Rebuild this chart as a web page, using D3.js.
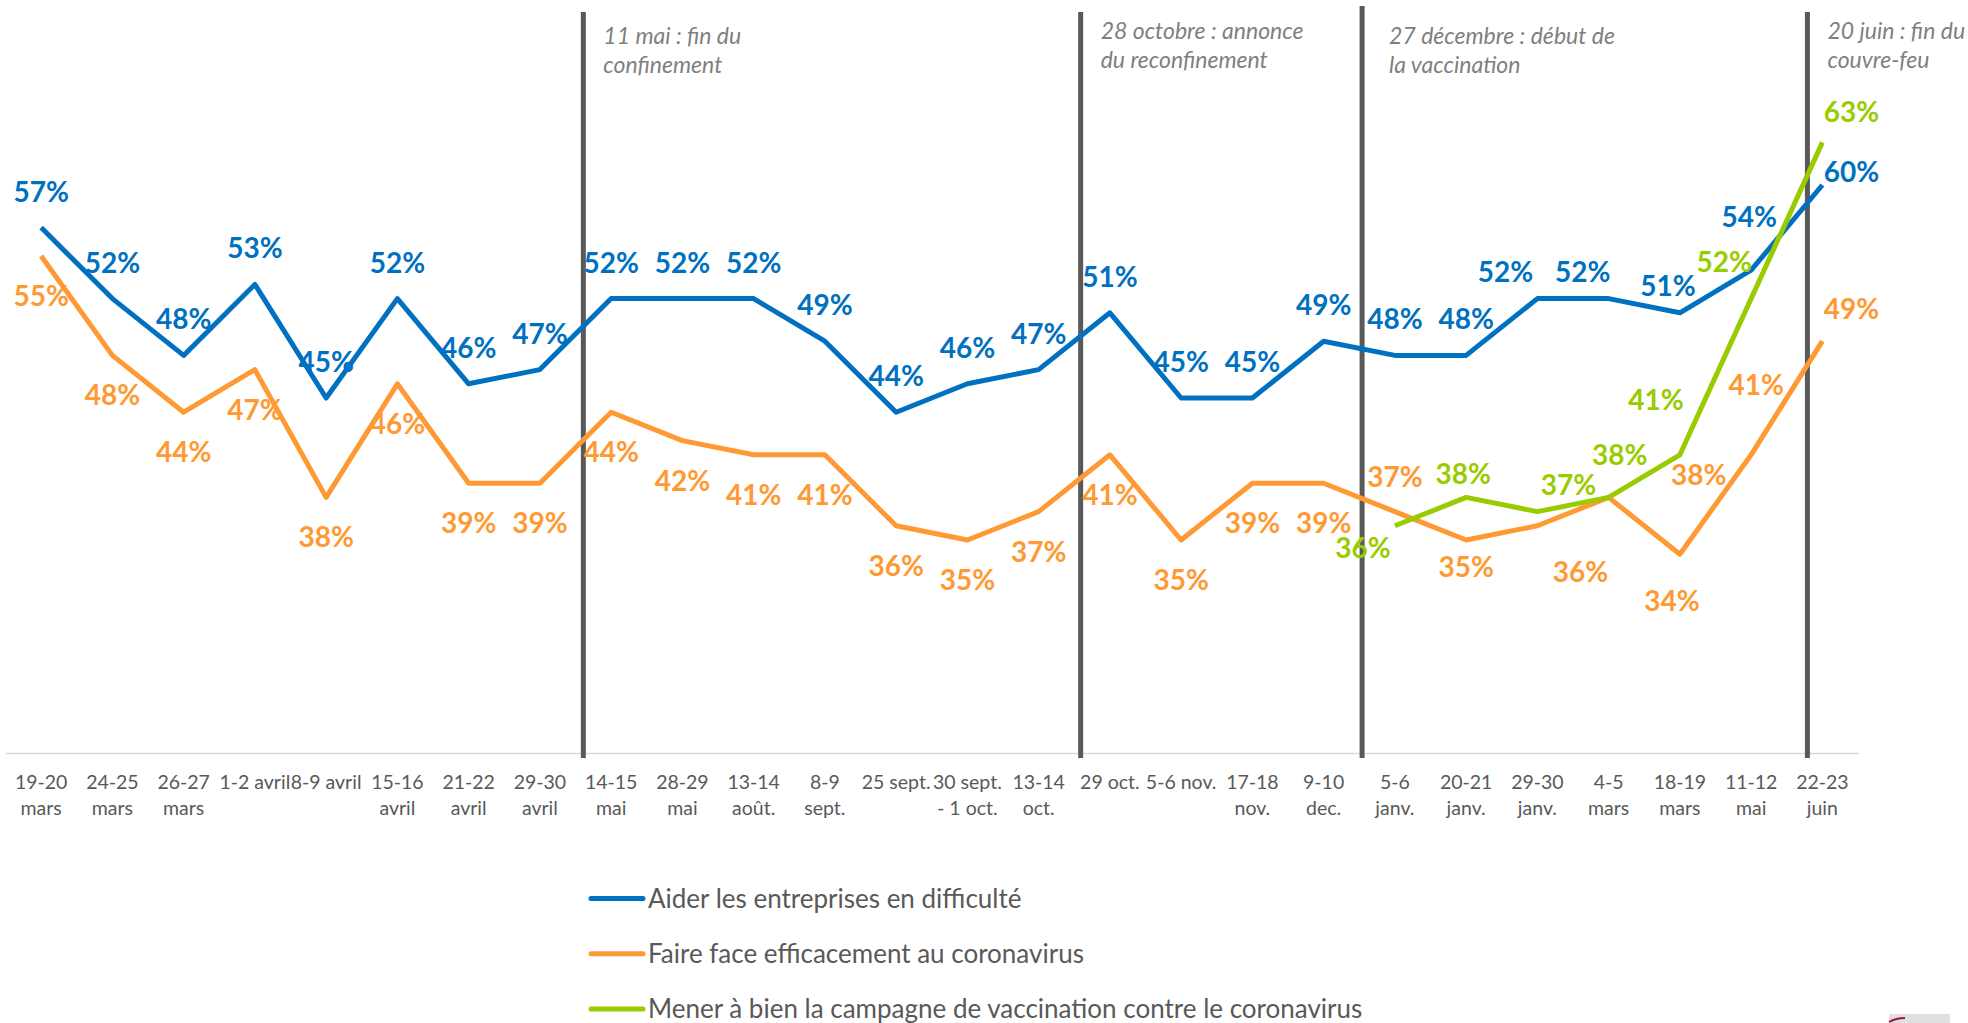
<!DOCTYPE html>
<html><head><meta charset="utf-8">
<script src="https://cdn.jsdelivr.net/npm/d3@7"></script>
<style>
html,body{margin:0;padding:0;background:#fff;}
svg{display:block;}
text{font-family:Lato,"Open Sans",sans-serif;}
</style></head><body>
<svg id="chart" width="1968" height="1023"></svg>
<script>
// ---------- data ----------
const categories = ["19-20\nmars","24-25\nmars","26-27\nmars","1-2 avril","8-9 avril","15-16\navril","21-22\navril","29-30\navril","14-15\nmai","28-29\nmai","13-14\naoût.","8-9\nsept.","25 sept.","30 sept.\n- 1 oct.","13-14\noct.","29 oct.","5-6 nov.","17-18\nnov.","9-10\ndec.","5-6\njanv.","20-21\njanv.","29-30\njanv.","4-5\nmars","18-19\nmars","11-12\nmai","22-23\njuin"];
const aiderEntreprises = [57,52,48,53,45,52,46,47,52,52,52,49,44,46,47,51,45,45,49,48,48,52,52,51,54,60];
const faireFace        = [55,48,44,47,38,46,39,39,44,42,41,41,36,35,37,41,35,39,39,37,35,36,38,34,41,49];
const vaccination      = [null,null,null,null,null,null,null,null,null,null,null,null,null,null,null,null,null,null,null,36,38,37,38,41,52,63];
const seriesNames = ["Aider les entreprises en difficulté","Faire face efficacement au coronavirus","Mener à bien la campagne de vaccination contre le coronavirus"];
const eventPositions = [7.61, 14.59, 18.54, 24.79];   // in category units
const eventLabels = [["11 mai : fin du","confinement"],["28 octobre : annonce","du reconfinement"],["27 décembre : début de","la vaccination"],["20 juin : fin du","couvre-feu"]];

// ---------- layout ----------
const colors = ["#0070C0","#FF9933","#99CC00"];
const defaultOffset = [[0,-36],[0,40],[0,-30]];
const labelOverrides = [
  {21:[-32,-27],22:[-26,-27],23:[-12,-27],24:[-2,-53],25:[29,-13]},
  {19:[0,-35],20:[0,27],21:[43,46],22:[90,-22],23:[-8,47],24:[5,-70],25:[29,-32]},
  {19:[-32,22],20:[-3,-23],21:[31,-27],22:[11,-42],23:[-24,-55],24:[-27,-37],25:[29,-30]}
];
const eventTops = [12,12,6,12];
const eventTextDx = [20,20,27,20];
const eventTextBase = [43.6,38.6,43.6,38.6];
const labelSize = 28;

const svg = d3.select("#chart");
const x = d3.scalePoint().domain(categories).range([5.5,1858]).padding(0.5);
const y = d3.scaleLinear().domain([20,70]).range([753,43]);
const step = x.step();
const xPos = p => x(categories[0]) + p*step;

// axis line + tick labels
const axis = d3.axisBottom(x).tickSize(0).tickFormat("");
const gAxis = svg.append("g").attr("transform",`translate(0,${y(20)})`).call(axis);
gAxis.select(".domain").attr("stroke","#D9D9D9").attr("stroke-width",1.5);
const tl = svg.append("g").selectAll("text").data(categories).join("text")
  .attr("x",d=>x(d)).attr("text-anchor","middle")
  .attr("font-size",19.5).attr("fill","#595959");
tl.each(function(d){
  const t=d3.select(this);
  d.split("\n").forEach((line,k)=>{
    t.append("tspan").attr("x",x(d)).attr("y",789+k*26).text(line);
  });
});

// event lines
const ev = svg.append("g");
eventPositions.forEach((p,i)=>{
  ev.append("line").attr("x1",xPos(p)).attr("x2",xPos(p))
    .attr("y1",eventTops[i]).attr("y2",758)
    .attr("stroke","#595959").attr("stroke-width",5);
  eventLabels[i].forEach((line,k)=>{
    ev.append("text").attr("x",xPos(p)+eventTextDx[i]).attr("y",eventTextBase[i]+k*29.5)
      .attr("font-size",23).attr("font-style","italic").attr("fill","#7F7F7F").text(line);
  });
});

// series lines
const allSeries = [aiderEntreprises, faireFace, vaccination];
const line = d3.line().defined(d=>d.v!=null).x(d=>x(d.c)).y(d=>y(d.v));
allSeries.forEach((s,si)=>{
  const pts = s.map((v,i)=>({c:categories[i],v,i}));
  svg.append("path").datum(pts).attr("d",line)
    .attr("fill","none").attr("stroke",colors[si]).attr("stroke-width",5)
    .attr("stroke-linejoin","round").attr("stroke-linecap","butt");
});
// labels
allSeries.forEach((s,si)=>{
  const pts = s.map((v,i)=>({c:categories[i],v,i})).filter(d=>d.v!=null);
  svg.append("g").selectAll("text").data(pts).join("text")
    .attr("x",d=>x(d.c)+(labelOverrides[si][d.i]||defaultOffset[si])[0])
    .attr("y",d=>y(d.v)+(labelOverrides[si][d.i]||defaultOffset[si])[1]+0.36*labelSize)
    .attr("text-anchor","middle").attr("font-size",labelSize).attr("font-weight","bold")
    .attr("fill",colors[si]).text(d=>d.v+"%");
});

// legend
const lg = svg.append("g");
seriesNames.forEach((n,i)=>{
  const cy = 898.6 + i*55.25;
  lg.append("line").attr("x1",591).attr("x2",643).attr("y1",cy).attr("y2",cy)
    .attr("stroke",colors[i]).attr("stroke-width",5).attr("stroke-linecap","round");
  lg.append("text").attr("x",648).attr("y",cy+0.36*26).attr("font-size",26)
    .attr("fill","#595959").text(n);
});

// small corner mark
svg.append("rect").attr("x",1889).attr("y",1014).attr("width",61).attr("height",9).attr("fill","#E0E0E0");
svg.append("path").attr("d","M1889,1022 Q1896,1018 1905,1018").attr("fill","none").attr("stroke","#A0163C").attr("stroke-width",2);
</script>
</body></html>
